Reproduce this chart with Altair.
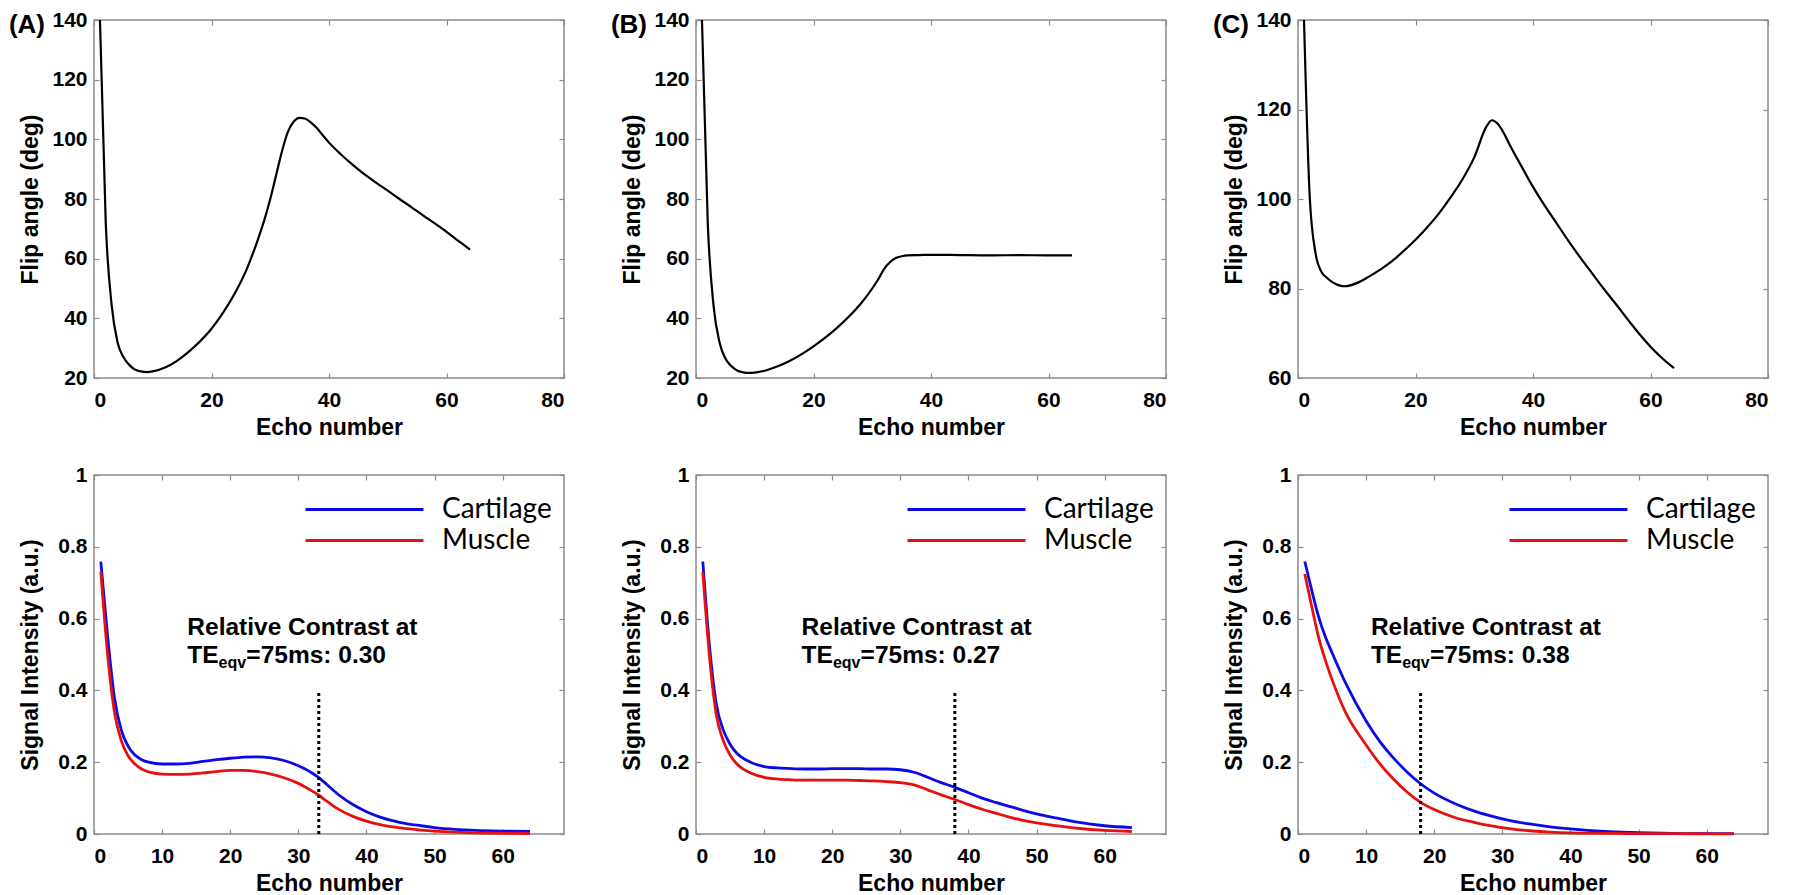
import altair as alt
import pandas as pd

# ---------------- data ----------------
# Top row: flip-angle schedules
echo_a = [1, 2, 3, 4, 5, 6, 7, 8, 9, 10, 12, 14, 16, 18, 20, 22, 24, 26, 27, 28, 29, 30, 31, 32, 33, 34,
          35, 36, 37, 38, 39, 40, 42, 44, 46, 48, 50, 52, 54, 56, 58, 60, 62, 64]
flip_a = [141, 72, 44.5, 32, 27, 24.4, 22.8, 22.2, 22, 22.2, 23.4, 25.6, 28.6, 32.2, 36.5, 42, 48.5, 56.5,
          61.5, 67, 73, 80, 88, 96, 102.5, 106, 107.2, 106.9, 105.5, 103.6, 101.2, 98.9, 95, 91.5, 88.3,
          85.5, 82.8, 80, 77.3, 74.5, 71.8, 69, 66, 63]

echo_b = [1, 2, 3, 4, 5, 6, 7, 8, 9, 10, 12, 14, 16, 18, 20, 22, 24, 26, 28, 30, 31, 32, 33, 34, 35, 36,
          38, 40, 45, 50, 55, 60, 64]
flip_b = [141, 72, 44, 32, 26.5, 24, 22.5, 21.9, 21.7, 21.8, 22.6, 24, 25.8, 28, 30.6, 33.5, 36.8, 40.5,
          44.8, 50, 53, 56.5, 58.8, 60.2, 60.8, 61.1, 61.2, 61.3, 61.2, 61.1, 61.2, 61.1, 61.1]

echo_c = [1, 2, 3, 4, 5, 6, 7, 8, 10, 12, 14, 16, 18, 20, 22, 24, 26, 28, 30, 32, 33, 34, 35, 36, 38, 40,
          42, 44, 46, 48, 50, 52, 54, 56, 58, 60, 62, 64]
flip_c = [141, 100.4, 87.8, 83.7, 82.3, 81.3, 80.7, 80.5, 81.2, 82.6, 84.2, 86.1, 88.4, 90.9, 93.7, 96.8,
          100.4, 104.4, 109.3, 116, 117.6, 116.8, 114.8, 112.2, 107.4, 102.7, 98.5, 94.6, 90.7, 87, 83.5,
          80, 76.7, 73.3, 70, 67, 64.4, 62.2]

# Bottom row: simulated signal
sig_echo_a = [1, 2, 3, 4, 5, 6, 7, 8, 10, 12, 14, 16, 18, 20, 22, 24, 26, 28, 30, 31, 32, 33, 34, 35, 36,
              38, 40, 42, 45, 48, 50, 53, 56, 60, 64]
cart_a = [0.759, 0.55, 0.38, 0.29, 0.245, 0.22, 0.207, 0.2, 0.195, 0.195, 0.197, 0.202, 0.207, 0.211,
          0.214, 0.215, 0.212, 0.204, 0.19, 0.181, 0.17, 0.157, 0.141, 0.124, 0.108, 0.082, 0.062, 0.047,
          0.032, 0.023, 0.018, 0.013, 0.01, 0.008, 0.007]
musc_a = [0.73, 0.5, 0.34, 0.26, 0.218, 0.195, 0.181, 0.173, 0.167, 0.166, 0.167, 0.17, 0.174, 0.177,
          0.177, 0.174, 0.167, 0.156, 0.141, 0.131, 0.12, 0.108, 0.094, 0.08, 0.068, 0.049, 0.036, 0.026,
          0.017, 0.011, 0.008, 0.005, 0.003, 0.002, 0.001]

sig_echo_b = [1, 2, 3, 4, 5, 6, 7, 8, 10, 12, 14, 16, 18, 20, 22, 24, 26, 28, 30, 32, 34, 36, 38, 40, 42,
              44, 46, 48, 50, 53, 56, 60, 64]
cart_b = [0.759, 0.52, 0.36, 0.29, 0.25, 0.225, 0.21, 0.2, 0.188, 0.184, 0.182, 0.181, 0.181, 0.182,
          0.182, 0.182, 0.181, 0.181, 0.179, 0.172, 0.158, 0.143, 0.13, 0.115, 0.1, 0.088, 0.077, 0.066,
          0.056, 0.044, 0.033, 0.023, 0.018]
musc_b = [0.73, 0.49, 0.33, 0.26, 0.22, 0.195, 0.18, 0.17, 0.158, 0.153, 0.151, 0.15, 0.15, 0.15, 0.15,
          0.149, 0.148, 0.146, 0.143, 0.137, 0.123, 0.109, 0.096, 0.082, 0.069, 0.058, 0.047, 0.038,
          0.031, 0.023, 0.016, 0.01, 0.007]

sig_echo_c = [1, 2, 3, 4, 5, 7, 10, 12, 14, 16, 18, 20, 23, 26, 28, 31, 34, 37, 40, 45, 50, 55, 60, 64]
cart_c = [0.759, 0.68, 0.607, 0.55, 0.505, 0.42, 0.315, 0.258, 0.212, 0.173, 0.14, 0.114, 0.085, 0.063,
          0.052, 0.038, 0.028, 0.02, 0.014, 0.007, 0.004, 0.002, 0.001, 0.001]
musc_c = [0.724, 0.635, 0.55, 0.485, 0.43, 0.338, 0.248, 0.196, 0.153, 0.117, 0.088, 0.068, 0.046, 0.032,
          0.024, 0.015, 0.009, 0.005, 0.003, 0.002, 0.001, 0.001, 0.0005, 0.0005]

tissues = ["Cartilage", "Muscle"]
tissue_colors = ["#0a0ae8", "#e8100f"]

te_eqv_echo = [33, 38, 18]              # dotted marker position (echo number)
contrast_values = ["0.30", "0.27", "0.38"]
panel_tags = ["(A)", "(B)", "(C)"]
flip_min = [20, 20, 60]

# annotation anchors (data coordinates)
note_x = [13.7, 15.5, 10.7]
note_y1 = 0.554
note_y2 = 0.476

FONT = "Liberation Sans"
PW = 470


def top_panel(echo, angle, tag, ymin):
    df = pd.DataFrame({"echo": echo, "angle": angle})
    xs = alt.Scale(domain=[0, 80], nice=False, zero=False)
    ys = alt.Scale(domain=[ymin, 140], nice=False, zero=False)
    xv = [0, 20, 40, 60, 80]
    yv = list(range(ymin, 141, 20))
    main = alt.Chart(df).mark_line(color="black", strokeWidth=2.2, clip=True,
                                   interpolate="monotone").encode(
        x=alt.X("echo:Q", scale=xs,
                axis=alt.Axis(values=xv, title="Echo number", labelPadding=11, titlePadding=6)),
        y=alt.Y("angle:Q", scale=ys,
                axis=alt.Axis(values=yv, title="Flip angle (deg)", labelPadding=7, titlePadding=9)),
    )
    ticks = alt.Chart(df).mark_line(opacity=0).encode(
        x=alt.X("echo:Q", scale=xs, axis=alt.Axis(orient="top", values=xv, labels=False, title=None)),
        y=alt.Y("angle:Q", scale=ys, axis=alt.Axis(orient="right", values=yv, labels=False, title=None)),
    )
    label = alt.Chart(pd.DataFrame({"tag": [tag]})).mark_text(
        font=FONT, fontWeight="bold", fontSize=26, align="right", baseline="middle", color="black"
    ).encode(text="tag:N", x=alt.value(-49), y=alt.value(5))
    return alt.layer(main, ticks, label).resolve_axis(x="independent", y="independent").properties(
        width=PW, height=358)


def bottom_panel(echo, cart, musc, te, contrast, nx):
    long = pd.DataFrame({
        "echo": list(echo) + list(echo),
        "signal": list(cart) + list(musc),
        "tissue": [tissues[0]] * len(echo) + [tissues[1]] * len(echo),
    })
    xs = alt.Scale(domain=[0, 69], nice=False, zero=False)
    ys = alt.Scale(domain=[0, 1], nice=False)
    xv = [0, 10, 20, 30, 40, 50, 60]
    yv = [0, 0.2, 0.4, 0.6, 0.8, 1]
    main = alt.Chart(long).mark_line(strokeWidth=2.8, interpolate="monotone").encode(
        x=alt.X("echo:Q", scale=xs,
                axis=alt.Axis(values=xv, title="Echo number", labelPadding=11, titlePadding=6)),
        y=alt.Y("signal:Q", scale=ys,
                axis=alt.Axis(values=yv, format="~g", title="Signal Intensity (a.u.)",
                              labelPadding=7, titlePadding=15)),
        color=alt.Color("tissue:N", scale=alt.Scale(domain=tissues, range=tissue_colors),
                        legend=alt.Legend(orient="none", legendX=254, legendY=18, title=None,
                                          symbolType="M-4,0H4", symbolSize=870, symbolStrokeWidth=2.8,
                                          labelFont="Lato", labelFontSize=28, labelFontWeight="normal",
                                          labelColor="black", labelOffset=61, rowPadding=-3, padding=0)),
    )
    ticks = alt.Chart(long).mark_line(opacity=0).encode(
        x=alt.X("echo:Q", scale=xs, axis=alt.Axis(orient="top", values=xv, labels=False, title=None)),
        y=alt.Y("signal:Q", scale=ys, axis=alt.Axis(orient="right", values=yv, labels=False, title=None)),
    )
    rule = alt.Chart(pd.DataFrame({"echo": [te], "lo": [0.0], "hi": [0.4]})).mark_rule(
        color="black", strokeWidth=3, strokeDash=[3, 3]
    ).encode(x=alt.X("echo:Q", scale=xs, axis=None), y=alt.Y("lo:Q", scale=ys, axis=None), y2="hi:Q")

    def note(text, yv_, size, dx=0, dy=0):
        d = pd.DataFrame({"echo": [nx], "signal": [yv_], "t": [text]})
        return alt.Chart(d).mark_text(font=FONT, fontWeight="bold", fontSize=size, align="left",
                                      baseline="alphabetic", color="black", dx=dx, dy=dy).encode(
            x=alt.X("echo:Q", scale=xs, axis=None),
            y=alt.Y("signal:Q", scale=ys, axis=None),
            text="t:N")

    n1 = note("Relative Contrast at", note_y1, 24.5)
    n2 = note("TE", note_y2, 24.5)
    n3 = note("eqv", note_y2, 16, dx=31.3, dy=5)
    n4 = note("=75ms: " + contrast, note_y2, 24.5, dx=59)
    return alt.layer(main, ticks, rule, n1, n2, n3, n4).resolve_axis(
        x="independent", y="independent").properties(width=PW, height=359)


panels = [top_panel(e, f, t, m) for e, f, t, m in
          zip([echo_a, echo_b, echo_c], [flip_a, flip_b, flip_c], panel_tags, flip_min)]
panels += [bottom_panel(e, c, m, te, cv, nx) for e, c, m, te, cv, nx in
           zip([sig_echo_a, sig_echo_b, sig_echo_c], [cart_a, cart_b, cart_c], [musc_a, musc_b, musc_c],
               te_eqv_echo, contrast_values, note_x)]

chart = alt.concat(*panels, columns=3, spacing={"row": 23, "column": 44}).resolve_scale(
    color="independent").resolve_legend(color="independent").properties(
    padding={"left": 0, "top": 0, "right": 0, "bottom": 0}, background="white"
).configure_view(stroke="#8c8c8c", strokeWidth=1.5).configure_axis(
    domain=False, grid=False, tickColor="#8c8c8c", tickSize=5, tickWidth=1.2, offset=-5,
    labelFont=FONT, labelFontWeight="bold", labelFontSize=21, labelColor="black",
    titleFont=FONT, titleFontWeight="bold", titleFontSize=23, titleColor="black")

chart.save("out.html", embed_options={"renderer": "svg", "actions": False})
